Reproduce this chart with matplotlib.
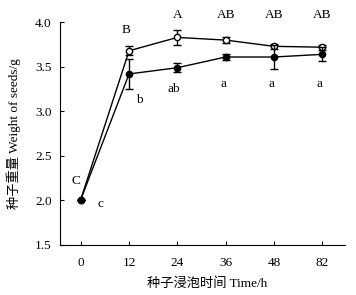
import matplotlib
matplotlib.use("Agg")
import matplotlib.pyplot as plt
import numpy as np

plt.rcParams['font.family'] = ['Liberation Serif', 'Noto Sans CJK SC']

times = ['0', '12', '24', '36', '48', '82']
open_vals = [2.01, 3.68, 3.83, 3.80, 3.73, 3.72]
open_err = [0.0, 0.05, 0.08, 0.03, 0.03, 0.03]
filled_vals = [2.01, 3.42, 3.49, 3.61, 3.61, 3.64]
filled_err = [0.0, 0.17, 0.05, 0.03, 0.14, 0.08]
upper_letters = ['C', 'B', 'A', 'AB', 'AB', 'AB']
lower_letters = ['c', 'b', 'ab', 'a', 'a', 'a']

fig = plt.figure(figsize=(3.56, 2.95), dpi=100)
ax = fig.add_axes([0.1685, 0.1695, 0.8005, 0.755])
x = np.arange(len(times))

ax.errorbar(x, open_vals, yerr=open_err, color='black', lw=1.0, marker='o',
            mfc='white', mec='black', ms=4.5, mew=1.0, capsize=3, elinewidth=1.0, zorder=3)
ax.errorbar(x, filled_vals, yerr=filled_err, color='black', lw=1.0, marker='o',
            mfc='black', mec='black', ms=4.5, mew=1.0, capsize=3, elinewidth=1.0, zorder=4)

fs = 9.5
upper_pos = [(-0.1, 2.22), (0.93, 3.91), (2.0, 4.08), (3.0, 4.08), (4.0, 4.08), (5.0, 4.08)]
for (px, py), t in zip(upper_pos, upper_letters):
    ax.text(px, py, t, ha='center', va='center', fontsize=fs, clip_on=False)
low_pos = [(0.4, 1.96), (1.22, 3.13), (1.93, 3.25), (2.95, 3.31), (3.95, 3.31), (4.95, 3.31)]
for (px, py), t in zip(low_pos, lower_letters):
    ax.text(px, py, t, ha='center', va='center', fontsize=fs)

ax.set_xlim(-0.43, 5.47)
ax.set_ylim(1.5, 4.0)
ax.set_xticks(x)
ax.set_xticklabels(times)
ax.set_yticks([1.5, 2.0, 2.5, 3.0, 3.5, 4.0])
ax.set_yticklabels(['1.5', '2.0', '2.5', '3.0', '3.5', '4.0'])
ax.tick_params(axis='x', direction='in', length=3, width=0.8, labelsize=fs, pad=9)
ax.tick_params(axis='y', direction='in', length=3, width=0.8, labelsize=fs, pad=6)
ax.spines['top'].set_visible(False)
ax.spines['right'].set_visible(False)
ax.spines['left'].set_linewidth(0.8)
ax.spines['bottom'].set_linewidth(0.8)
ax.set_xlabel('种子浸泡时间 Time/h', fontsize=fs, labelpad=6)
ax.xaxis.set_label_coords(0.515, -0.145)
ax.set_ylabel('种子重量 Weight of seeds/g', fontsize=fs, labelpad=10)

fig.savefig('out.png', dpi=100)
